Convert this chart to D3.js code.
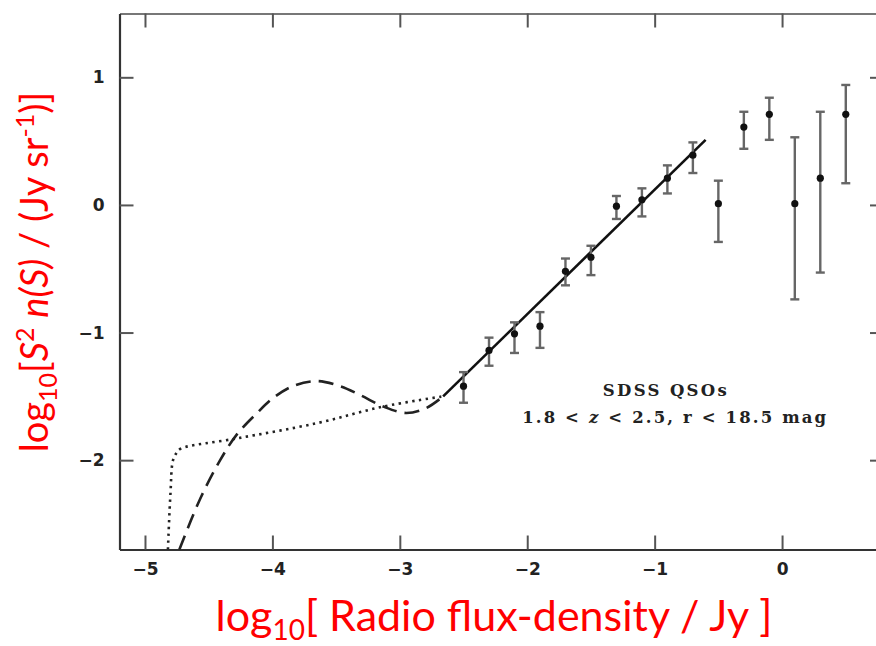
<!DOCTYPE html>
<html>
<head>
<meta charset="utf-8">
<script src="https://cdn.jsdelivr.net/npm/d3@7"></script>
<style>
body { margin: 0; background: white; }
</style>
</head>
<body>
<div id="canvas"></div>
<script>
"use strict"

/* Binned source counts: log10 flux density, log10 S^2 n(S) and error bar ends */
let binFlux = [-2.5, -2.3, -2.1, -1.9, -1.7, -1.5, -1.3, -1.1, -0.9, -0.7, -0.5, -0.3, -0.1, 0.1, 0.3, 0.5];
let binCount = [-1.42, -1.14, -1.01, -0.95, -0.52, -0.41, -0.01, 0.04, 0.21, 0.39, 0.01, 0.61, 0.71, 0.01, 0.21, 0.71];
let binHigh = [-1.31, -1.04, -0.92, -0.84, -0.42, -0.32, 0.07, 0.13, 0.31, 0.49, 0.19, 0.73, 0.84, 0.53, 0.73, 0.94];
let binLow = [-1.55, -1.26, -1.16, -1.12, -0.63, -0.55, -0.11, -0.09, 0.09, 0.25, -0.29, 0.44, 0.51, -0.74, -0.53, 0.17];

/* Power-law fit (solid line) */
let fitFlux = [-2.66, -0.6];
let fitCount = [-1.50, 0.51];

/* Model extrapolations below the data (dashed and dotted) */
let dashFlux = [-4.73, -4.57, -4.41, -4.28, -4.12, -3.99, -3.84, -3.65, -3.47, -3.31, -3.13, -2.95, -2.79, -2.66];
let dashCount = [-2.70, -2.31, -2.00, -1.80, -1.63, -1.51, -1.42, -1.38, -1.42, -1.49, -1.58, -1.63, -1.59, -1.50];
let dotFlux = [-4.82, -4.80, -4.78, -4.75, -4.72, -4.28, -3.65, -3.13, -2.66];
let dotCount = [-2.70, -2.26, -2.00, -1.94, -1.91, -1.83, -1.71, -1.58, -1.50];

/* Tick values */
let xTicks = [-5, -4, -3, -2, -1, 0];
let yTicks = [-2, -1, 0, 1];

/* Drawing dimensions */
let svgWidth = 876;
let svgHeight = 646;
let plotLeft = 119.5, plotRight = 884, plotTop = 13.5, plotBottom = 549.5;

let svg = d3.select("#canvas")
    .append("svg")
    .attr("width", svgWidth)
    .attr("height", svgHeight)
    .style("display", "block");

svg.append("rect")
    .attr("width", svgWidth)
    .attr("height", svgHeight)
    .attr("fill", "white");

let xScale = d3.scaleLinear()
    .domain([-5.2, 0.8])
    .range([plotLeft, plotRight]);

let yScale = d3.scaleLinear()
    .domain([-2.7, 1.5])
    .range([plotBottom, plotTop]);

let minusFormat = function (d) {
    return d < 0 ? "\u2212" + Math.abs(d) : String(d);
};

/**** axes, ticks pointing inward ****/
let xAxisBottom = svg.append("g")
    .attr("transform", "translate(0," + plotBottom + ")")
    .call(d3.axisBottom(xScale).tickValues(xTicks).tickFormat(minusFormat)
        .tickSizeInner(-14).tickSizeOuter(0).tickPadding(13));

let xAxisTop = svg.append("g")
    .attr("transform", "translate(0," + plotTop + ")")
    .call(d3.axisTop(xScale).tickValues(xTicks).tickFormat("")
        .tickSizeInner(-14).tickSizeOuter(0));

let yAxisLeft = svg.append("g")
    .attr("transform", "translate(" + plotLeft + ",0)")
    .call(d3.axisLeft(yScale).tickValues(yTicks).tickFormat(minusFormat)
        .tickSizeInner(-14).tickSizeOuter(0).tickPadding(15));

let yAxisRight = svg.append("g")
    .attr("transform", "translate(" + plotRight + ",0)")
    .call(d3.axisRight(yScale).tickValues(yTicks).tickFormat("")
        .tickSizeInner(-14).tickSizeOuter(0));

[xAxisBottom, xAxisTop, yAxisLeft, yAxisRight].forEach(function (g) {
    g.select(".domain").attr("stroke", "#333").attr("stroke-width", 2.2);
    g.selectAll(".tick line").attr("stroke", "#555").attr("stroke-width", 2);
    g.selectAll(".tick text")
        .attr("fill", "#222")
        .style("font-family", "DejaVu Sans")
        .style("font-weight", "bold")
        .style("font-size", "17px");
});
xAxisTop.select(".domain").attr("stroke", "#777");

/**** model curves ****/
let dashLine = d3.line()
    .x(function (d) { return xScale(d[0]); })
    .y(function (d) { return yScale(d[1]); })
    .curve(d3.curveCatmullRom);

svg.append("path")
    .datum(d3.zip(dashFlux, dashCount))
    .attr("d", dashLine)
    .attr("fill", "none")
    .attr("stroke", "#222")
    .attr("stroke-width", 2.6)
    .attr("stroke-dasharray", "15,8");

svg.append("path")
    .datum(d3.zip(dotFlux, dotCount))
    .attr("d", dashLine)
    .attr("fill", "none")
    .attr("stroke", "#222")
    .attr("stroke-width", 2.6)
    .attr("stroke-dasharray", "2.4,4.4");

/* fit line */
svg.append("path")
    .datum(d3.zip(fitFlux, fitCount))
    .attr("d", dashLine)
    .attr("fill", "none")
    .attr("stroke", "#111")
    .attr("stroke-width", 2.6);

/**** error bars and points ****/
let bins = d3.range(binFlux.length).map(function (i) {
    return { x: binFlux[i], y: binCount[i], hi: binHigh[i], lo: binLow[i] };
});

let bars = svg.append("g")
    .attr("stroke", "#666")
    .attr("stroke-width", 2.4);

bars.selectAll("line.stem")
    .data(bins)
    .join("line")
    .attr("class", "stem")
    .attr("x1", function (d) { return xScale(d.x); })
    .attr("x2", function (d) { return xScale(d.x); })
    .attr("y1", function (d) { return yScale(d.hi); })
    .attr("y2", function (d) { return yScale(d.lo); });

bars.selectAll("line.capHi")
    .data(bins)
    .join("line")
    .attr("class", "capHi")
    .attr("x1", function (d) { return xScale(d.x) - 4.5; })
    .attr("x2", function (d) { return xScale(d.x) + 4.5; })
    .attr("y1", function (d) { return yScale(d.hi); })
    .attr("y2", function (d) { return yScale(d.hi); });

bars.selectAll("line.capLo")
    .data(bins)
    .join("line")
    .attr("class", "capLo")
    .attr("x1", function (d) { return xScale(d.x) - 4.5; })
    .attr("x2", function (d) { return xScale(d.x) + 4.5; })
    .attr("y1", function (d) { return yScale(d.lo); })
    .attr("y2", function (d) { return yScale(d.lo); });

svg.selectAll("circle")
    .data(bins)
    .join("circle")
    .attr("r", 3.6)
    .attr("fill", "#111")
    .attr("cx", function (d) { return xScale(d.x); })
    .attr("cy", function (d) { return yScale(d.y); });

/**** annotation ****/
let note = svg.append("g")
    .attr("fill", "#222")
    .style("font-family", "DejaVu Serif")
    .style("font-weight", "bold")
    .style("font-size", "16.5px");

note.append("text")
    .attr("x", xScale(-0.92))
    .attr("y", yScale(-1.5))
    .attr("text-anchor", "middle")
    .attr("textLength", 124)
    .attr("lengthAdjust", "spacing")
    .text("SDSS QSOs");

let note2 = note.append("text")
    .attr("x", xScale(-2.04))
    .attr("y", yScale(-1.71))
    .attr("textLength", 304)
    .attr("lengthAdjust", "spacing");
note2.append("tspan").text("1.8 < ");
note2.append("tspan").style("font-style", "italic").text("z");
note2.append("tspan").text(" < 2.5,  r < 18.5  mag");

/**** red axis titles ****/
let xTitle = svg.append("text")
    .attr("x", 494)
    .attr("y", 631)
    .attr("text-anchor", "middle")
    .attr("fill", "#ff0000")
    .style("font-family", "Lato")
    .style("font-size", "43px");
xTitle.append("tspan").text("log");
xTitle.append("tspan").attr("dy", 9).style("font-size", "28px").text("10");
xTitle.append("tspan").attr("dy", -9).text("[ Radio flux-density / Jy ]");

let yTitle = svg.append("text")
    .attr("transform", "translate(48,272) rotate(-90)")
    .attr("text-anchor", "middle")
    .attr("fill", "#ff0000")
    .style("font-family", "Lato")
    .style("font-size", "38px");
yTitle.append("tspan").text("log");
yTitle.append("tspan").attr("dy", 9).style("font-size", "25px").text("10");
yTitle.append("tspan").attr("dy", -9).text("[");
yTitle.append("tspan").style("font-style", "italic").text("S");
yTitle.append("tspan").attr("dy", -14).style("font-size", "25px").text("2");
yTitle.append("tspan").attr("dy", 14).text(" ");
yTitle.append("tspan").style("font-style", "italic").text("n(S)");
yTitle.append("tspan").text(" / (Jy sr");
yTitle.append("tspan").attr("dy", -14).style("font-size", "25px").text("-1");
yTitle.append("tspan").attr("dy", 14).text(")]");
</script>
</body>
</html>
